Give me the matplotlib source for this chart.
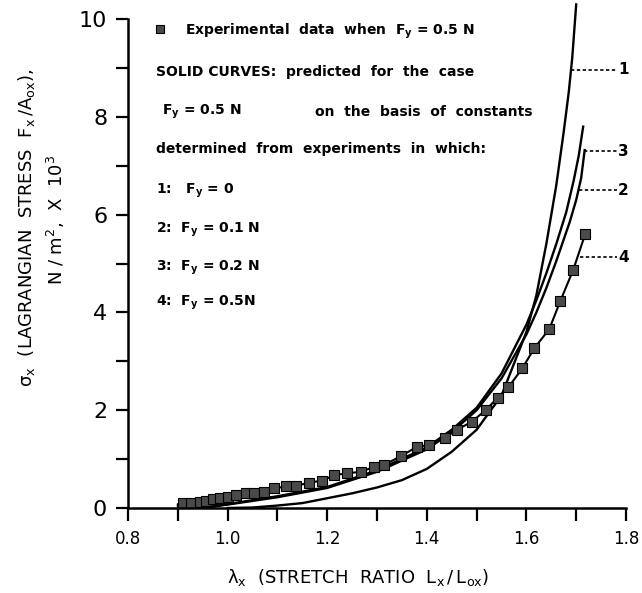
import numpy as np
import matplotlib
matplotlib.use("Agg")
import matplotlib.pyplot as plt
from matplotlib.ticker import MultipleLocator, FormatStrFormatter

plt.rcParams['font.family'] = ['DejaVu Sans']
plt.rcParams['mathtext.default'] = 'regular'

# experimental data, F_y = 0.5 N (squares)
lam_exp = [0.911, 0.927, 0.944, 0.957, 0.971, 0.984, 1.000, 1.017, 1.037, 1.054,
           1.074, 1.094, 1.117, 1.137, 1.164, 1.190, 1.214, 1.240, 1.267, 1.294,
           1.314, 1.348, 1.380, 1.404, 1.436, 1.460, 1.490, 1.518, 1.542, 1.564,
           1.592, 1.616, 1.646, 1.668, 1.694, 1.718]
sig_exp = [0.10, 0.11, 0.13, 0.15, 0.18, 0.20, 0.22, 0.27, 0.30, 0.31,
           0.33, 0.40, 0.44, 0.45, 0.52, 0.56, 0.67, 0.71, 0.74, 0.84,
           0.88, 1.06, 1.25, 1.29, 1.43, 1.60, 1.76, 2.00, 2.25, 2.47,
           2.86, 3.27, 3.66, 4.23, 4.87, 5.60]

# predicted curves
lam1 = [1.00, 1.05, 1.10, 1.15, 1.20, 1.25, 1.30, 1.35, 1.40, 1.45, 1.50, 1.55,
        1.60, 1.62, 1.64, 1.66, 1.675, 1.685, 1.692, 1.700]
sig1 = [0.00, 0.01, 0.05, 0.10, 0.20, 0.30, 0.42, 0.57, 0.80, 1.15, 1.60, 2.30,
        3.60, 4.35, 5.40, 6.60, 7.70, 8.50, 9.20, 10.30]

lam2 = [0.95, 1.00, 1.10, 1.20, 1.30, 1.40, 1.45, 1.50, 1.55, 1.60, 1.62, 1.64,
        1.66, 1.687, 1.700, 1.710, 1.717]
sig2 = [0.00, 0.07, 0.22, 0.41, 0.74, 1.20, 1.55, 2.00, 2.65, 3.55, 4.00, 4.50,
        5.05, 5.85, 6.30, 6.75, 7.32]

lam3 = [0.95, 1.00, 1.10, 1.20, 1.30, 1.40, 1.45, 1.50, 1.55, 1.60, 1.62, 1.64,
        1.66, 1.68, 1.695, 1.705, 1.714]
sig3 = [0.00, 0.08, 0.24, 0.43, 0.77, 1.24, 1.60, 2.05, 2.75, 3.75, 4.25, 4.80,
        5.40, 6.05, 6.70, 7.20, 7.80]

lam4 = [0.90, 0.90] + lam_exp
sig4 = [0.00, 0.08] + sig_exp

# curve tags: (label, sigma, lambda start)
tags = [("1", 8.96, 1.690), ("3", 7.30, 1.715), ("2", 6.50, 1.705), ("4", 5.13, 1.707)]

fig = plt.figure(figsize=(6.42, 5.93), dpi=100)
ax = fig.add_axes([128 / 642, 1 - 508 / 593, 498 / 642, 508 / 593])

ax.plot(lam1, sig1, color='black', lw=1.7)
ax.plot(lam2, sig2, color='black', lw=1.7)
ax.plot(lam3, sig3, color='black', lw=1.7)
ax.plot(lam4, sig4, color='black', lw=1.5)
ax.plot(lam_exp, sig_exp, ls='none', marker='s', ms=6.5, mfc='#4a4a4a', mec='black', mew=0.8)

for name, s, l0 in tags:
    ax.plot([l0, 1.782], [s, s], color='black', lw=1.2, ls=(0, (2, 1.5)))
    ax.text(1.784, s, name, fontsize=11, fontweight='bold', va='center', ha='left')

ax.set_xlim(0.8, 1.8)
ax.set_ylim(0, 10.39)
ax.spines['top'].set_visible(False)
ax.spines['right'].set_visible(False)
ax.spines['left'].set_bounds(0, 10)
ax.spines['left'].set_linewidth(1.8)
ax.spines['bottom'].set_linewidth(1.8)
ax.xaxis.set_major_locator(MultipleLocator(0.2))
ax.xaxis.set_minor_locator(MultipleLocator(0.1))
ax.xaxis.set_major_formatter(FormatStrFormatter('%.1f'))
ax.yaxis.set_major_locator(MultipleLocator(2))
ax.yaxis.set_minor_locator(MultipleLocator(1))
ax.tick_params(which='both', direction='out', width=1.6, length=9)
ax.tick_params(axis='x', labelsize=12, pad=7)
ax.tick_params(axis='y', labelsize=16, pad=6)

# legend text block
kw = dict(fontsize=10, fontweight='bold', transform=fig.transFigure, va='center')
def ty(py):
    return 1 - py / 593
ax.plot([0.864], [9.8], ls='none', marker='s', ms=6, mfc='#4a4a4a', mec='black', mew=0.8)
fig.text(185 / 642, ty(31), 'Experimental  data  when  $F_y$ = 0.5 N', **kw)
fig.text(156 / 642, ty(72), 'SOLID CURVES:  predicted  for  the  case', **kw)
fig.text(162 / 642, ty(112), '$F_y$ = 0.5 N', **kw)
fig.text(315 / 642, ty(112), 'on  the  basis  of  constants', **kw)
fig.text(156 / 642, ty(149), 'determined  from  experiments  in  which:', **kw)
fig.text(156 / 642, ty(191), '1:   $F_y$ = 0', **kw)
fig.text(156 / 642, ty(230), '2:  $F_y$ = 0.1 N', **kw)
fig.text(156 / 642, ty(268), '3:  $F_y$ = 0.2 N', **kw)
fig.text(156 / 642, ty(303), '4:  $F_y$ = 0.5N', **kw)

# axis titles
fig.text(27 / 642, ty(228), r'$\sigma_x$  (LAGRANGIAN  STRESS  $F_x\,/A_{ox}$),',
         rotation=90, fontsize=13, ha='center', va='center')
fig.text(56 / 642, ty(220), r'N / m$^2$,  X  10$^3$',
         rotation=90, fontsize=13, ha='center', va='center')
fig.text(358 / 642, ty(578), r'$\lambda_x$  (STRETCH  RATIO  $L_x\,/\,L_{ox}$)',
         fontsize=13, ha='center', va='center')

fig.savefig('out.png', dpi=100)
